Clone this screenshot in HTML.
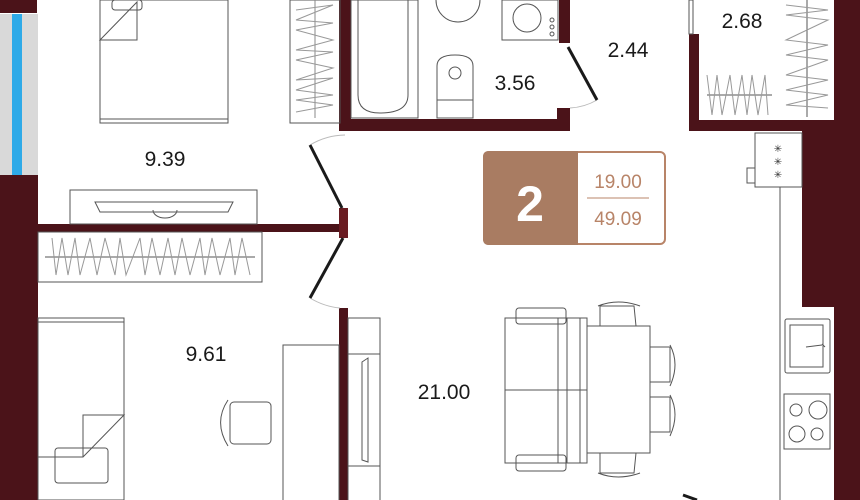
<!DOCTYPE html>
<html><head><style>body{margin:0;background:#fff}svg{display:block}text{font-family:"Liberation Sans",sans-serif}</style></head><body>
<svg width="860" height="500" viewBox="0 0 860 500" xmlns="http://www.w3.org/2000/svg">
<g fill="#4b1319">
<rect x="0" y="0" width="37" height="13"/>
<rect x="0" y="175" width="38" height="325"/>
<rect x="38" y="224" width="303" height="8"/>
<rect x="339" y="208" width="9" height="30" fill="#6a1c22"/>
<rect x="339" y="0" width="12" height="131"/>
<rect x="339" y="119" width="231" height="12"/>
<rect x="559" y="0" width="11" height="43"/>
<rect x="557" y="108" width="13" height="23"/>
<rect x="339" y="308" width="9" height="192"/>
<rect x="689" y="34" width="10" height="97"/>
<rect x="689" y="120" width="146" height="11"/>
<rect x="834" y="0" width="26" height="500"/>
<rect x="802" y="130" width="33" height="177"/>
</g>
<rect x="0" y="14" width="38" height="161" fill="#d9d9d9"/>
<rect x="12" y="14" width="10" height="161" fill="#2eaae8"/>
<g fill="none" stroke="#555" stroke-width="1">
<rect x="689" y="0" width="4" height="34"/>
<!-- bed 1 -->
<rect x="100" y="0" width="128" height="123"/><line x1="100" y1="119" x2="228" y2="119"/>
<path d="M100 40 L137 2 L137 40 Z"/><rect x="112" y="0" width="30" height="10" rx="3"/>
<!-- wardrobe -->
<rect x="290" y="0" width="50" height="123"/><line x1="315" y1="0" x2="315" y2="118" stroke="#888"/>
<path d="M296 10 L333 5 L296 20 L333 23 L296 30 L333 40 L296 50 L333 52 L296 60 L333 68 L296 80 L333 78 L296 90 L333 95 L296 100 L333 105 L296 112" stroke="#999"/>
<!-- TV -->
<rect x="70" y="190" width="187" height="34"/><path d="M95 202 L233 202 L228 212 L100 212 Z"/><path d="M153 210 A12 8 0 0 0 177 210"/>
<!-- bottom wardrobe -->
<rect x="38" y="232" width="224" height="50"/><line x1="45" y1="257" x2="255" y2="257"/>
<path d="M52 238 L56 275 L62 238 L68 275 L75 238 L80 275 L90 238 L97 275 L105 238 L115 275 L120 238 L126 275 L140 238 L145 275 L152 238 L160 275 L168 238 L175 275 L182 238 L190 275 L200 238 L205 275 L212 238 L220 275 L230 238 L235 275 L242 238 L250 275" stroke="#999"/>
<!-- bed 2 -->
<rect x="38" y="318" width="86" height="182"/><line x1="38" y1="322" x2="124" y2="322"/>
<path d="M38 457 L83 457 L124 415 L83 415 L83 457"/><rect x="55" y="448" width="53" height="35" rx="3"/>
<!-- desk/chair -->
<rect x="283" y="345" width="56" height="160"/>
<rect x="230" y="402" width="41" height="42" rx="4"/><path d="M228 400 C 218 415 218 430 228 446"/>
<!-- cabinet -->
<rect x="348" y="318" width="32" height="186"/><line x1="348" y1="354" x2="380" y2="354"/><line x1="348" y1="466" x2="380" y2="466"/>
<path d="M362 362 L368 358 L368 462 L362 460 Z"/>
<!-- bath -->
<rect x="351" y="0" width="67" height="118"/><path d="M358 0 L358 95 Q358 113 380 113 Q408 113 408 95 L408 0"/>
<!-- sink top -->
<path d="M436 0 A18 18 0 0 0 480 0"/>
<!-- washer -->
<rect x="502" y="0" width="56" height="40"/><circle cx="527" cy="18" r="14"/><circle cx="552" cy="20" r="2"/><circle cx="552" cy="27" r="2"/><circle cx="552" cy="34" r="2"/>
<!-- toilet -->
<path d="M437 118 L437 66 Q437 55 455 55 Q473 55 473 66 L473 118 Z"/><line x1="437" y1="100" x2="473" y2="100"/><circle cx="455" cy="73" r="6"/>
<!-- 2.68 wardrobes -->
<line x1="707" y1="95" x2="772" y2="95"/><path d="M707 75 L712 115 L717 75 L722 115 L730 75 L735 115 L742 75 L747 115 L752 75 L758 115 L765 75 L768 115" stroke="#999"/>
<line x1="807" y1="0" x2="807" y2="117"/><path d="M786 5 L828 10 L786 15 L828 20 L786 40 L828 45 L786 55 L828 60 L786 75 L828 80 L786 90 L828 95 L786 105 L828 108" stroke="#999"/>
<!-- kitchen -->
<line x1="780" y1="187" x2="780" y2="500"/>
<rect x="755" y="133" width="47" height="54"/><rect x="747" y="168" width="8" height="15"/>
<rect x="785" y="319" width="45" height="54" rx="2"/><rect x="790" y="325" width="33" height="42"/><path d="M806 347 L822 345 M822 344 l3 3"/>
<rect x="784" y="394" width="46" height="55"/><circle cx="796" cy="410" r="6"/><circle cx="818" cy="410" r="9"/><circle cx="797" cy="434" r="8"/><circle cx="817" cy="434" r="6"/>
<!-- sofa & table -->
<rect x="505" y="318" width="75" height="145"/><line x1="558" y1="318" x2="558" y2="463"/><line x1="505" y1="390" x2="587" y2="390"/>
<rect x="516" y="308" width="50" height="16" rx="3"/><rect x="516" y="455" width="50" height="16" rx="3"/>
<rect x="567" y="318" width="20" height="145"/>
<rect x="587" y="326" width="63" height="127"/>
<path d="M600 326 L600 306 L634 306 L636 326"/><path d="M598 306 Q618 298 640 306"/>
<path d="M600 453 L600 473 L634 473 L636 453"/><path d="M598 473 Q618 481 640 473"/>
<path d="M650 347 L670 347 L670 382 L650 382"/><path d="M670 345 Q680 364 670 386"/>
<path d="M650 397 L670 397 L670 432 L650 432"/><path d="M670 395 Q680 414 670 436"/>
<!-- door arcs -->
<path d="M310 145 A70 70 0 0 1 345 135" stroke="#bbb"/><path d="M310 298 A70 70 0 0 0 340 308" stroke="#bbb"/><path d="M597 100 A60 60 0 0 1 570 108" stroke="#bbb"/>
</g>
<g stroke="#1a1a1a" stroke-width="3">
<line x1="310" y1="145" x2="342" y2="208"/><line x1="343" y1="238" x2="310" y2="298"/><line x1="568" y1="47" x2="597" y2="100"/><line x1="683" y1="495" x2="697" y2="500"/>
</g>
<g font-size="10" fill="#333" text-anchor="middle"><text x="778" y="152">✳</text><text x="778" y="165">✳</text><text x="778" y="178">✳</text></g>
<g font-size="21" fill="#1a1a1a" text-anchor="middle">
<text x="165" y="166">9.39</text><text x="515" y="90">3.56</text><text x="628" y="57">2.44</text><text x="742" y="28">2.68</text><text x="206" y="361">9.61</text><text x="444" y="399">21.00</text>
</g>
<rect x="484" y="152" width="181" height="92" rx="5" fill="#fff" stroke="#b88468" stroke-width="2"/>
<path d="M489 151 L578 151 L578 245 L489 245 Q483 245 483 239 L483 157 Q483 151 489 151 Z" fill="#a97c62"/>
<text x="530" y="221" font-size="50" font-weight="bold" fill="#fff" text-anchor="middle">2</text>
<g fill="#b88468" font-size="19" text-anchor="middle"><text x="618" y="188">19.00</text><text x="618" y="225">49.09</text></g>
<line x1="587" y1="198" x2="649" y2="198" stroke="#b88468" stroke-width="1"/>
</svg>
</body></html>
